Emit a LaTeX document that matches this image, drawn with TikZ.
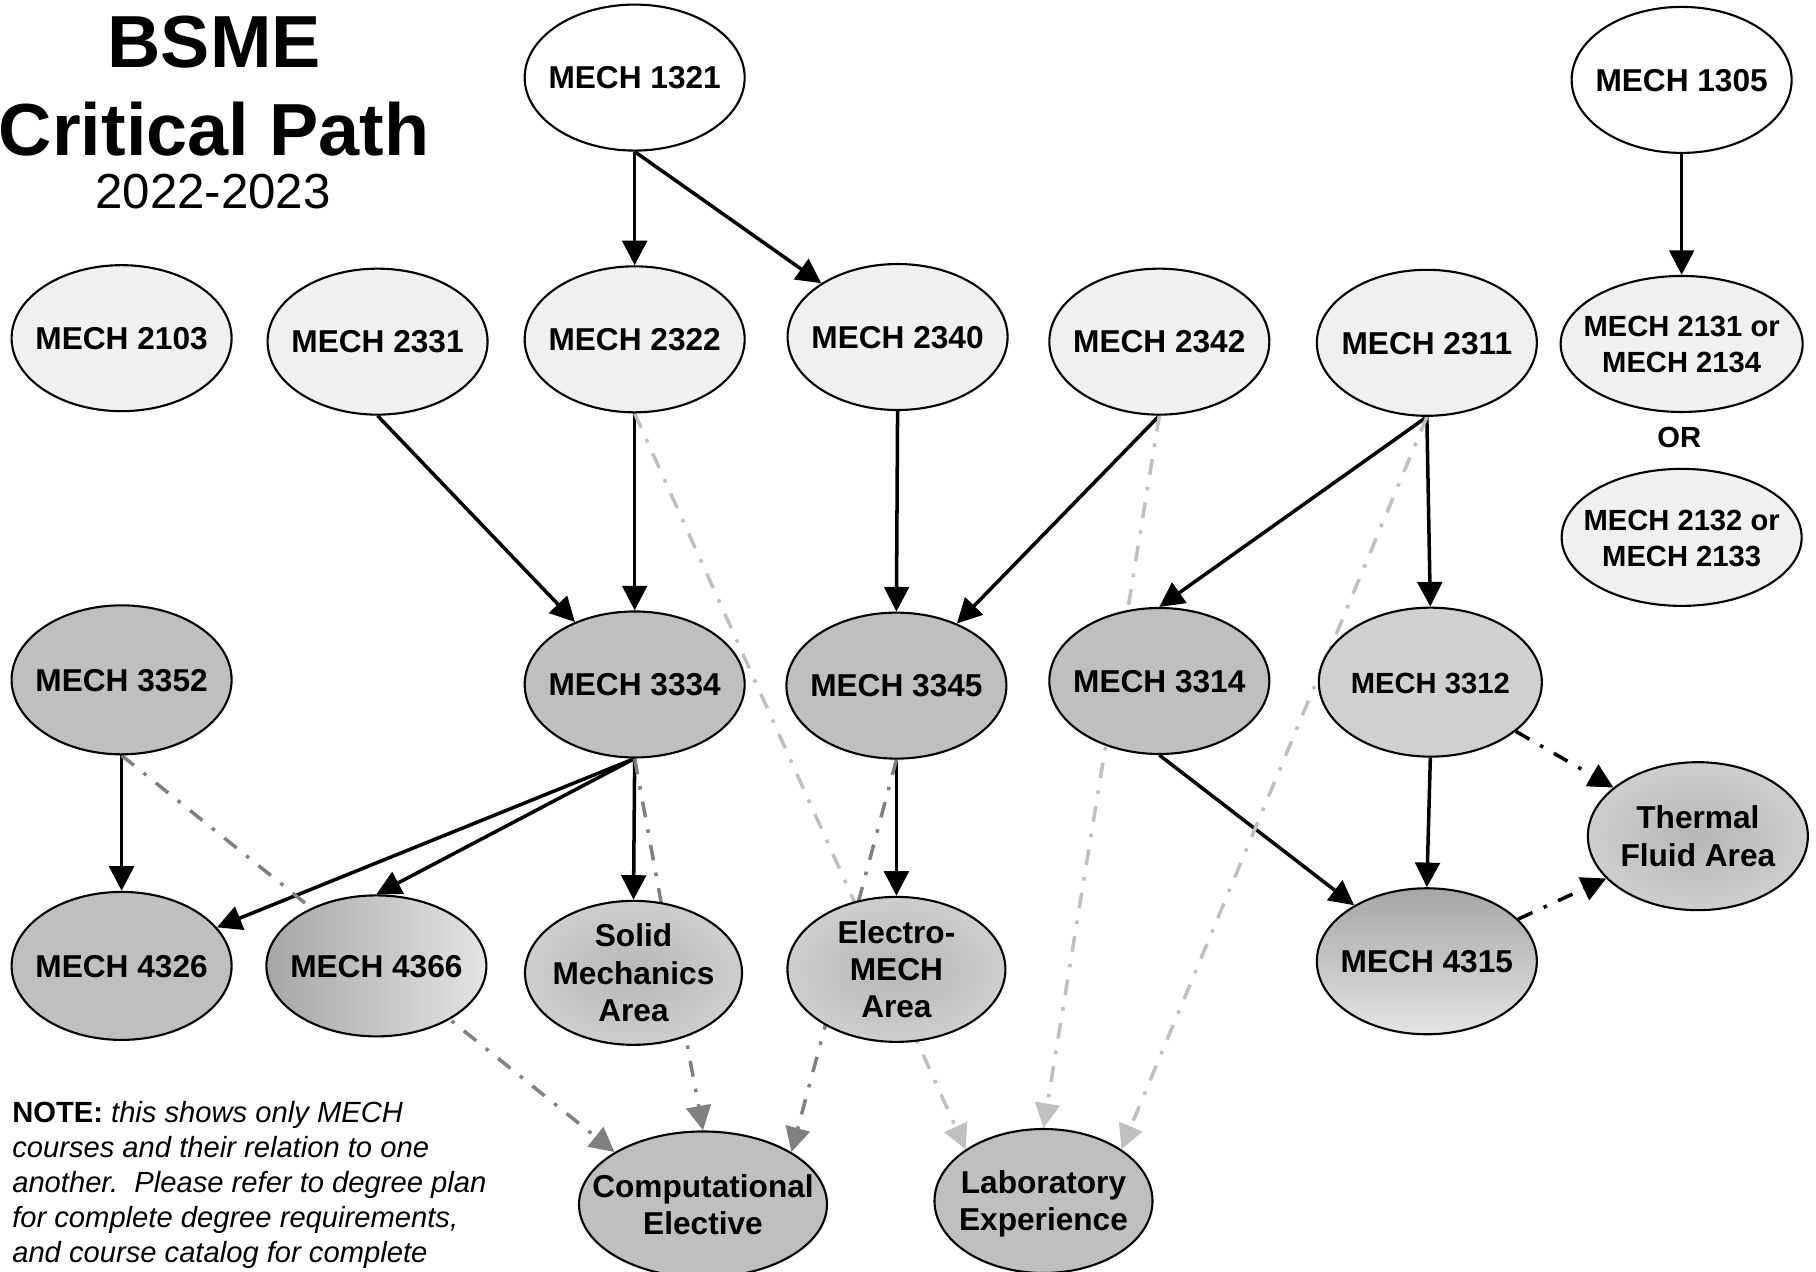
\documentclass[tikz,border=0pt]{standalone}
\usepackage{fontspec}
\setmainfont{Liberation Sans}
\usetikzlibrary{shapes.geometric,arrows.meta,backgrounds}

\definecolor{lightfill}{HTML}{F0F0F0}
\definecolor{midfill}{HTML}{BFBFBF}
\definecolor{palefill}{HTML}{D0D0D0}
\definecolor{shadedark}{HTML}{A6A6A6}
\definecolor{shadelight}{HTML}{E4E4E4}
\definecolor{spotdark}{HTML}{B6B6B6}
\definecolor{linemid}{HTML}{808080}
\definecolor{linelight}{HTML}{C0C0C0}

\pgfdeclareradialshading{areashade}{\pgfpoint{0bp}{0bp}}{color(0bp)=(spotdark); color(48bp)=(shadelight); color(50bp)=(shadelight)}

\newcommand{\ctxt}[1]{\raisebox{-0.37em}[0pt][0pt]{\makebox[0pt]{\begin{tabular}{@{}c@{}}#1\end{tabular}}}}

\begin{document}
\begin{tikzpicture}[x=0.01158cm, y=-0.01158cm,
  course/.style={ellipse, draw, line width=0.6pt, inner sep=0pt, minimum width=2.2cm, minimum height=1.46cm, font=\fontsize{9}{10.6}\selectfont\bfseries},
  small/.style={font=\fontsize{8.3}{10.2}\selectfont\bfseries},
  area/.style={shade, shading=areashade},
  pre/.style={-{Triangle[length=7pt,width=7pt]}, line width=1pt},
  dd/.style={pre, dash pattern=on 4.5pt off 3.5pt on 1pt off 3.5pt},
  ddmid/.style={dd, color=linemid},
  ddlight/.style={dd, color=linelight}]

\useasboundingbox (0,0) rectangle (1568,1098);

% -------- Title -----------
\node [anchor=base, font=\fontsize{21}{25}\selectfont\bfseries] (bsme) at (185,58) {BSME};
\node [anchor=base, font=\fontsize{21}{25}\selectfont\bfseries] (critpath) at (185,134) {Critical Path};
\node [anchor=base, font=\fontsize{14}{16}\selectfont] (year) at (184,180) {2022-2023};

% -------- Courses -----------
\node [course, fill=white] (m1321) at (548,67) {\ctxt{MECH 1321}};
\node [course, fill=white] (m1305) at (1452,69) {\ctxt{MECH 1305}};

\node [course, fill=lightfill] (m2103) at (105,292) {\ctxt{MECH 2103}};
\node [course, fill=lightfill] (m2331) at (326,295) {\ctxt{MECH 2331}};
\node [course, fill=lightfill] (m2322) at (548,293) {\ctxt{MECH 2322}};
\node [course, fill=lightfill] (m2340) at (775,291) {\ctxt{MECH 2340}};
\node [course, fill=lightfill] (m2342) at (1001,295) {\ctxt{MECH 2342}};
\node [course, fill=lightfill] (m2311) at (1232,296) {\ctxt{MECH 2311}};
\node [course, small, fill=lightfill, minimum width=2.42cm, minimum height=1.36cm] (m2131) at (1452,297) {\ctxt{MECH 2131 or\\MECH 2134}};
\node [small] (ortext) at (1450,378) {OR};
\node [course, small, fill=lightfill, minimum width=2.4cm, minimum height=1.37cm] (m2132) at (1452,464) {\ctxt{MECH 2132 or\\MECH 2133}};

\node [course, fill=midfill, minimum height=1.49cm] (m3352) at (105,587) {\ctxt{MECH 3352}};
\node [course, fill=midfill] (m3334) at (548,591) {\ctxt{MECH 3334}};
\node [course, fill=midfill] (m3345) at (774,592) {\ctxt{MECH 3345}};
\node [course, fill=midfill] (m3314) at (1001,588) {\ctxt{MECH 3314}};
\node [course, small, fill=palefill, minimum width=2.23cm, minimum height=1.49cm] (m3312) at (1235,589) {\ctxt{MECH 3312}};
\node [course, area, minimum height=1.48cm] (thermal) at (1466,722) {\ctxt{Thermal\\Fluid Area}};

\node [course, fill=midfill, minimum height=1.48cm] (m4326) at (105,834) {\ctxt{MECH 4326}};
\node [course, left color=shadedark, right color=shadelight, minimum height=1.41cm] (m4366) at (325,834) {\ctxt{MECH 4366}};
\node [course, area, minimum width=2.17cm, minimum height=1.44cm] (solid) at (547,840) {\ctxt{Solid\\Mechanics\\Area}};
\node [course, area, minimum width=2.18cm, minimum height=1.45cm] (electro) at (774,837) {\ctxt{Electro-\\MECH\\Area}};
\node [course, top color=shadedark, bottom color=shadelight] (m4315) at (1232,830) {\ctxt{MECH 4315}};

\node [course, fill=midfill, minimum width=2.48cm] (comp) at (607,1040) {\ctxt{Computational\\Elective}};
\node [course, fill=midfill, minimum width=2.18cm, minimum height=1.44cm] (lab) at (901,1037) {\ctxt{Laboratory\\Experience}};

% -------- Note -----------
\node [anchor=north west, inner sep=0pt, align=left, font=\fontsize{8.3}{10}\selectfont\itshape] (note) at (10,950)
  {\textbf{\textup{NOTE:}} this shows only MECH\\courses and their relation to one\\another.\ \ Please refer to degree plan\\for complete degree requirements,\\and course catalog for complete};

% -------- Arrows -----------
\begin{pgfonlayer}{background}
\draw [pre] (m1321.south) -- (m2322.north);
\draw [pre] (m1321.south) -- (m2340);
\draw [pre] (m1305.south) -- (m2131.north);
\draw [pre] (m2331.south) -- (m3334);
\draw [pre] (m2322.south) -- (m3334.north);
\draw [pre] (m2340.south) -- (m3345.north);
\draw [pre] (m2342.south) -- (m3345);
\draw [pre] (m2311.south) -- (m3314.north);
\draw [pre] (m2311.south) -- (m3312.north);
\draw [pre] (m3352.south) -- (m4326.north);
\draw [pre] (m3334.south) -- (m4326);
\draw [pre] (m3334.south) -- (m4366.north);
\draw [pre] (m3334.south) -- (solid.north);
\draw [pre] (m3345.south) -- (electro.north);
\draw [pre] (m3314.south) -- (m4315);
\draw [pre] (m3312.south) -- (m4315.north);

\draw [dd] (m3312) -- (thermal);
\draw [dd] (m4315) -- (thermal);

\draw [ddmid] (m3352.south) -- (comp.north west);
\draw [ddmid] (m3334.south) -- (comp.north);
\draw [ddmid] (m3345.south) -- (comp.north east);

\draw [ddlight] (m2322.south) -- (lab.north west);
\draw [ddlight] (m2342.south) -- (lab.north);
\draw [ddlight] (m2311.south) -- (lab.north east);
\end{pgfonlayer}

\end{tikzpicture}
\end{document}
